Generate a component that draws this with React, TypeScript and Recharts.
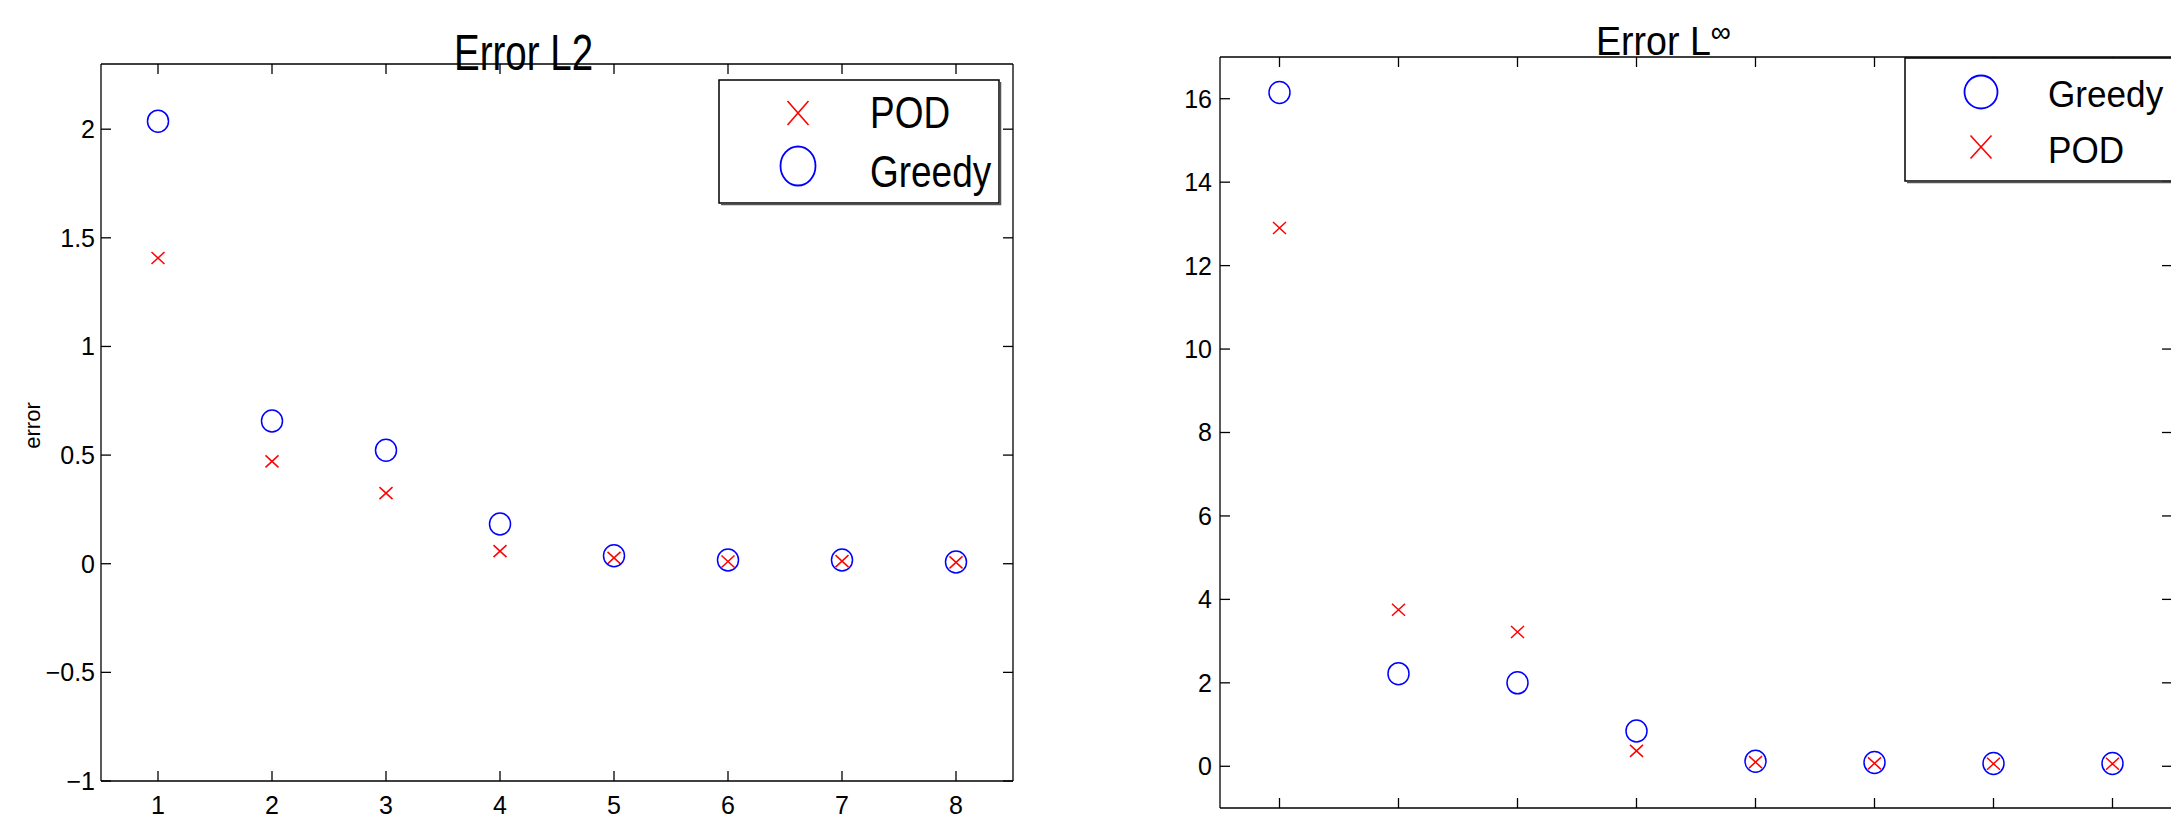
import React from "react";
import { ScatterChart, Scatter, XAxis, YAxis, Legend } from "recharts";

// reduced-basis step on the x axis
const steps = [1, 2, 3, 4, 5, 6, 7, 8];

// Error L2
const l2Pod = [1.407, 0.471, 0.325, 0.058, 0.027, 0.01, 0.012, 0.006];
const l2Greedy = [2.037, 0.657, 0.522, 0.183, 0.037, 0.017, 0.017, 0.008];
const l2Ticks = [-1, -0.5, 0, 0.5, 1, 1.5, 2];

// Error L-infinity
const linfGreedy = [16.15, 2.22, 2.0, 0.845, 0.12, 0.09, 0.065, 0.065];
const linfPod = [12.9, 3.75, 3.22, 0.37, 0.1, 0.07, 0.06, 0.06];
const linfTicks = [0, 2, 4, 6, 8, 10, 12, 14, 16];

const toPoints = (vals: number[]) => steps.map((x, i) => ({ x, y: vals[i] }));

const BLUE = "#0000ff";
const RED = "#ff0000";
const FONT = "'Liberation Sans', Arial, Helvetica, sans-serif";
const axisLine = { stroke: "#000", strokeWidth: 1.3 };
const TICK_LEN = 10;
const TICK_FS = 25;

const fmt = (v: number) => String(v).replace("-", "\u2212");

// matlab style ticks: short marks pointing into the box, labels outside
const makeTick = (side: "left" | "right" | "top" | "bottom", withLabel: boolean, gap = 6) => (props: any) => {
  const { x, y, payload } = props;
  let line: [number, number, number, number];
  if (side === "left") line = [x, y, x + TICK_LEN, y];
  else if (side === "right") line = [x - TICK_LEN, y, x, y];
  else if (side === "top") line = [x, y, x, y + TICK_LEN];
  else line = [x, y - TICK_LEN, x, y];
  return (
    <g>
      <line x1={line[0]} y1={line[1]} x2={line[2]} y2={line[3]} stroke="#000" strokeWidth={1.3} />
      {withLabel && side === "left" && (
        <text x={x - gap} y={y + TICK_FS * 0.358} textAnchor="end" fontSize={TICK_FS} fontFamily={FONT} fill="#000">
          {fmt(payload.value)}
        </text>
      )}
      {withLabel && side === "bottom" && (
        <text x={x} y={y + gap + TICK_FS * 0.716} textAnchor="middle" fontSize={TICK_FS} fontFamily={FONT} fill="#000">
          {fmt(payload.value)}
        </text>
      )}
    </g>
  );
};

function crossPath(cx: number, cy: number, hx: number, hy: number) {
  return `M${cx - hx},${cy - hy}L${cx + hx},${cy + hy}M${cx - hx},${cy + hy}L${cx + hx},${cy - hy}`;
}

const CrossShape = (props: any) => (
  <path d={crossPath(props.cx, props.cy, 6.5, 6)} stroke={RED} strokeWidth={1.5} fill="none" />
);

const RingShape = (props: any) => (
  <ellipse cx={props.cx} cy={props.cy} rx={10.5} ry={11} stroke={BLUE} strokeWidth={1.5} fill="none" />
);

// draws nothing: only ties the top / right (box) axes to the data
const NoShape = () => <g />;

type LegendSpec = {
  w: number;
  h: number;
  order: string[];
  markX: number;
  textX: number;
  rows: { cy: number; base: number }[];
  fs: number;
  sx: number;
  ring: { rx: number; ry: number };
  cross: { hx: number; hy: number };
};

const legendContent = (spec: LegendSpec) => (props: any) => {
  const payload: any[] = props.payload ?? [];
  const items = spec.order
    .map((name) => payload.find((p) => p.value === name))
    .filter(Boolean);
  return (
    <svg width={spec.w + 3} height={spec.h + 3} style={{ display: "block", overflow: "visible" }}>
      <rect x={1} y={1} width={spec.w - 2} height={spec.h - 2} fill="#fff" stroke="#000" strokeWidth={1.5} />
      <path d={`M3,${spec.h + 0.5}H${spec.w + 0.5}V3`} stroke="#555" strokeWidth={1.5} fill="none" />
      {items.map((it: any, i: number) => {
        const row = spec.rows[i];
        return (
          <g key={it.value}>
            {it.value === "POD" ? (
              <path d={crossPath(spec.markX, row.cy, spec.cross.hx, spec.cross.hy)} stroke={RED} strokeWidth={1.6} fill="none" />
            ) : (
              <ellipse cx={spec.markX} cy={row.cy} rx={spec.ring.rx} ry={spec.ring.ry} stroke={BLUE} strokeWidth={1.8} fill="none" />
            )}
            <text
              transform={`translate(${spec.textX},${row.base}) scale(${spec.sx},1)`}
              fontSize={spec.fs}
              fontFamily={FONT}
              fill="#000"
            >
              {it.value}
            </text>
          </g>
        );
      })}
    </svg>
  );
};

const ErrorLabel = (props: any) => {
  const vb = props.viewBox || {};
  const x = vb.x + 19;
  const y = vb.y + vb.height / 2 + 3;
  return (
    <text x={x} y={y} transform={`rotate(-90,${x},${y})`} textAnchor="middle" fontSize={22} fontFamily={FONT} fill="#000">
      error
    </text>
  );
};

const common = { type: "number" as const, interval: 0, allowDataOverflow: true, tickSize: 0, tickMargin: 0, tickLine: false, axisLine };

function L2Chart() {
  return (
    <ScatterChart width={1100} height={818} margin={{ top: 63, right: 86, bottom: 0, left: 21 }}>
      <XAxis xAxisId="b" dataKey="x" domain={[0.5, 8.5]} ticks={steps} height={37} tick={makeTick("bottom", true, 15)} {...common} />
      <XAxis xAxisId="t" orientation="top" dataKey="x" domain={[0.5, 8.5]} ticks={steps} height={1} tick={makeTick("top", false)} {...common} />
      <YAxis yAxisId="l" dataKey="y" domain={[-1, 2.3]} ticks={l2Ticks} width={80} tick={makeTick("left", true, 6)}
        label={{ value: "error", content: ErrorLabel }} {...common} />
      <YAxis yAxisId="r" orientation="right" dataKey="y" domain={[-1, 2.3]} ticks={l2Ticks} width={1} tick={makeTick("right", false)} {...common} />
      <Scatter name="box" xAxisId="t" yAxisId="r" data={toPoints(l2Greedy)} shape={NoShape} legendType="none" isAnimationActive={false} />
      <Scatter name="POD" xAxisId="b" yAxisId="l" data={toPoints(l2Pod)} shape={CrossShape} isAnimationActive={false} />
      <Scatter name="Greedy" xAxisId="b" yAxisId="l" data={toPoints(l2Greedy)} shape={RingShape} isAnimationActive={false} />
      <Legend
        layout="horizontal"
        verticalAlign="middle"
        align="center"
        wrapperStyle={{ left: 718, top: 79, width: 285, height: 128, margin: 0 }}
        content={legendContent({
          w: 282, h: 125, order: ["POD", "Greedy"], markX: 80, textX: 152,
          rows: [{ cy: 34, base: 49 }, { cy: 87, base: 108 }],
          fs: 44, sx: 0.84, ring: { rx: 17.5, ry: 19.5 }, cross: { hx: 10.5, hy: 12 },
        })}
      />
    </ScatterChart>
  );
}

function LinfChart() {
  return (
    <ScatterChart width={1100} height={860} margin={{ top: 56, right: 27, bottom: 12, left: 40 }}>
      <XAxis xAxisId="b" dataKey="x" domain={[0.5, 8.5]} ticks={steps} height={40} tick={makeTick("bottom", false)} {...common} />
      <XAxis xAxisId="t" orientation="top" dataKey="x" domain={[0.5, 8.5]} ticks={steps} height={1} tick={makeTick("top", false)} {...common} />
      <YAxis yAxisId="l" dataKey="y" domain={[-1, 17]} ticks={linfTicks} width={80} tick={makeTick("left", true, 8)} {...common} />
      <YAxis yAxisId="r" orientation="right" dataKey="y" domain={[-1, 17]} ticks={linfTicks} width={1} tick={makeTick("right", false)} {...common} />
      <Scatter name="box" xAxisId="t" yAxisId="r" data={toPoints(linfGreedy)} shape={NoShape} legendType="none" isAnimationActive={false} />
      <Scatter name="Greedy" xAxisId="b" yAxisId="l" data={toPoints(linfGreedy)} shape={RingShape} isAnimationActive={false} />
      <Scatter name="POD" xAxisId="b" yAxisId="l" data={toPoints(linfPod)} shape={CrossShape} isAnimationActive={false} />
      <Legend
        layout="horizontal"
        verticalAlign="middle"
        align="center"
        wrapperStyle={{ left: 804, top: 57, width: 285, height: 128, margin: 0 }}
        content={legendContent({
          w: 282, h: 125, order: ["Greedy", "POD"], markX: 77, textX: 144,
          rows: [{ cy: 35, base: 50 }, { cy: 90, base: 106 }],
          fs: 37, sx: 0.95, ring: { rx: 16.5, ry: 16.5 }, cross: { hx: 10.5, hy: 11.5 },
        })}
      />
    </ScatterChart>
  );
}

export default function App() {
  return (
    <div style={{ position: "absolute", left: 0, top: 0, width: 2171, height: 818, overflow: "hidden", background: "#fff" }}>
      <div style={{ position: "absolute", left: 0, top: 0 }}>
        <L2Chart />
      </div>
      <div style={{ position: "absolute", left: 1100, top: 0 }}>
        <LinfChart />
      </div>
      <svg width={2171} height={818} style={{ position: "absolute", left: 0, top: 0, pointerEvents: "none" }}>
        <text transform="translate(454,70) scale(0.77,1)" fontSize={50} fontFamily={FONT} fill="#000">
          Error L2
        </text>
        <text transform="translate(1596,55) scale(0.94,1)" fontSize={40} fontFamily={FONT} fill="#000">
          Error L
          <tspan fontSize={30} dy={-13}>{"\u221E"}</tspan>
        </text>
      </svg>
    </div>
  );
}
